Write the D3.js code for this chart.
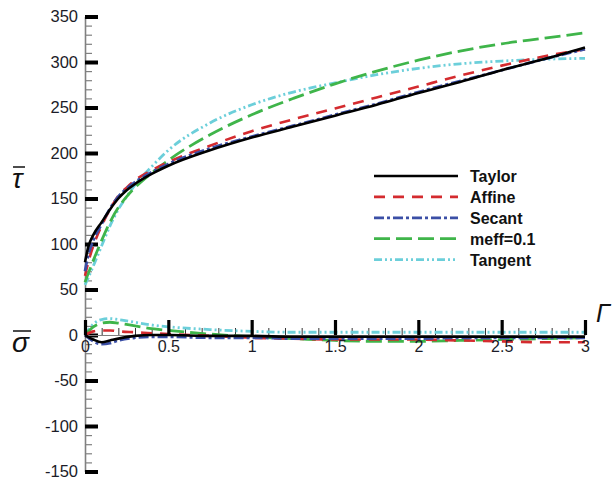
<!DOCTYPE html>
<html>
<head>
<meta charset="utf-8">
<script src="https://cdn.jsdelivr.net/npm/d3@7"></script>
<style>
  body { margin: 0; background: #fff; }
  text { font-family: "Liberation Sans", Arial, sans-serif; }
</style>
</head>
<body>
<svg id="chart" width="613" height="483"></svg>
<script>
// strain values (x) for the tau curves
var gammaTau = [0, 0.02, 0.05, 0.1, 0.15, 0.2, 0.25, 0.3, 0.4, 0.5, 0.75, 1, 1.25, 1.5, 1.75, 2, 2.25, 2.5, 2.75, 3];
var tauTaylor  = [80, 97, 110, 124, 138, 150, 159, 166, 177, 186, 203, 217, 229, 241, 253, 266, 278, 291, 303, 316];
var tauAffine  = [65, 80, 98, 120, 138, 153, 162, 170, 181, 190, 208, 224, 237, 249, 261, 273, 285, 296, 306, 314];
var tauSecant  = [70, 88, 104, 122, 139, 152, 161, 168, 179, 188, 205, 218, 230, 242, 254, 267, 279, 291, 303, 314];
var tauMeff    = [58, 68, 82, 104, 124, 140, 152, 162, 178, 192, 220, 242, 260, 276, 290, 302, 312, 320, 326, 332];
var tauTangent = [55, 63, 76, 98, 120, 138, 152, 165, 185, 203, 233, 253, 267, 277, 286, 293, 298, 301, 303, 304];

// strain values (x) for the sigma curves
var gammaSig = [0, 0.05, 0.1, 0.15, 0.2, 0.3, 0.4, 0.5, 0.75, 1, 1.25, 1.5, 1.75, 2, 2.25, 2.5, 2.75, 3];
var sigTaylor  = [0, -5, -8, -6, -4, -1, 0, 0, -1, -1, -2, -2, -2, -2, -2, -2, -2, -2];
var sigAffine  = [0, 4, 5, 5, 4, 3, 2, 1, -1, -3, -4, -5, -5, -5, -6, -7, -8, -8];
var sigSecant  = [0, -7, -10, -9, -6, -3, -2, -2, -3, -3, -4, -4, -4, -4, -3, -3, -3, -3];
var sigMeff    = [0, 9, 13, 14, 13, 10, 7, 5, 1, -2, -4, -6, -7, -7, -6, -5, -4, -3];
var sigTangent = [0, 12, 17, 18, 17, 14, 11, 9, 6, 4, 3, 3, 3, 3, 3, 3, 3, 3];

var seriesNames = ["Taylor", "Affine", "Secant", "meff=0.1", "Tangent"];
var xTicks = [0, 0.5, 1, 1.5, 2, 2.5, 3];
var yTicks = [-150, -100, -50, 0, 50, 100, 150, 200, 250, 300, 350];

var styles = [
  {color: "#000000", dash: null, width: 2.6},
  {color: "#d42b2f", dash: "11,8", width: 2.6},
  {color: "#3b4fa6", dash: "10,3,3,3", width: 2.8},
  {color: "#3fb54a", dash: "16,6", width: 2.8},
  {color: "#6ccfda", dash: "8,3,2,3,2,3", width: 2.8}
];

var svg = d3.select("#chart");
var x = d3.scaleLinear().domain([0, 3]).range([85, 585]);
var y = d3.scaleLinear().domain([-150, 350]).range([471.5, 16.5]);
var plain = function(d) { return String(d); };

// y axis
var yMinor = d3.range(-150, 351, 10).filter(function(v) { return v % 50 !== 0; });
svg.append("g")
  .attr("transform", "translate(" + x(0) + ",0)")
  .call(d3.axisLeft(y).tickValues(yMinor).tickSize(-7).tickSizeOuter(0).tickFormat(""))
  .call(function(g) {
    g.select(".domain").attr("stroke", "#808080").attr("stroke-width", 1.6);
    g.selectAll(".tick line").attr("stroke", "#808080").attr("stroke-width", 1.2);
  });
svg.append("g")
  .attr("transform", "translate(" + x(0) + ",0)")
  .call(d3.axisLeft(y).tickValues(yTicks).tickSize(-13).tickPadding(7).tickSizeOuter(0).tickFormat(plain))
  .call(function(g) {
    g.select(".domain").remove();
    g.selectAll(".tick line").attr("stroke", "#000").attr("stroke-width", 4);
    g.selectAll(".tick text").attr("font-size", 16.5).attr("fill", "#1c1c28")
      .attr("font-family", "Liberation Sans, Arial, sans-serif");
  });

// x axis at y = 0
var xMinor = d3.range(1, 30).map(function(i) { return i / 10; }).filter(function(v, i) { return (i + 1) % 5 !== 0; });
svg.append("g")
  .attr("transform", "translate(0," + y(0) + ")")
  .call(d3.axisBottom(x).tickValues(xMinor).tickSize(-7).tickSizeOuter(0).tickFormat(""))
  .call(function(g) {
    g.select(".domain").attr("stroke", "#808080").attr("stroke-width", 1.2);
    g.selectAll(".tick line").attr("stroke", "#333").attr("stroke-width", 1);
  });

// curves
var line = d3.line()
  .x(function(d) { return x(d[0]); })
  .y(function(d) { return y(d[1]); })
  .curve(d3.curveMonotoneX);

var tauSets = [tauTaylor, tauAffine, tauSecant, tauMeff, tauTangent];
var sigSets = [sigTaylor, sigAffine, sigSecant, sigMeff, sigTangent];
var order = [4, 3, 1, 2, 0];

order.forEach(function(i) {
  [[gammaTau, tauSets[i]], [gammaSig, sigSets[i]]].forEach(function(pair) {
    var pts = pair[0].map(function(g, k) { return [g, pair[1][k]]; });
    svg.append("path")
      .datum(pts)
      .attr("fill", "none")
      .attr("stroke", styles[i].color)
      .attr("stroke-width", styles[i].width)
      .attr("stroke-dasharray", styles[i].dash)
      .attr("d", line);
  });
});

// major x ticks drawn over curves
svg.append("g")
  .attr("transform", "translate(0," + y(0) + ")")
  .call(d3.axisBottom(x).tickValues(xTicks).tickSize(-15).tickPadding(6).tickSizeOuter(0).tickFormat(plain))
  .call(function(g) {
    g.select(".domain").remove();
    g.selectAll(".tick line").attr("stroke", "#000").attr("stroke-width", 3.2);
    g.selectAll(".tick text").attr("font-size", 16).attr("fill", "#1c1c28")
      .attr("font-family", "Liberation Sans, Arial, sans-serif");
  });

// legend
var legend = svg.append("g").attr("transform", "translate(374,176)");
seriesNames.forEach(function(name, i) {
  var row = legend.append("g").attr("transform", "translate(0," + (i * 20.9) + ")");
  row.append("line")
    .attr("x1", 0).attr("x2", 84).attr("y1", 0).attr("y2", 0)
    .attr("stroke", styles[i].color)
    .attr("stroke-width", styles[i].width)
    .attr("stroke-dasharray", styles[i].dash);
  row.append("text")
    .attr("x", 96).attr("y", 6)
    .attr("font-size", 16).attr("font-weight", "bold")
    .attr("fill", "#111")
    .text(name);
});

// axis symbols with overbars
function barLabel(txt, lx, ly) {
  var t = svg.append("text")
    .attr("x", lx).attr("y", ly)
    .attr("font-family", "Liberation Serif, Times New Roman, serif")
    .attr("font-style", "italic")
    .attr("font-size", 28)
    .attr("fill", "#111")
    .text(txt);
  var b = t.node().getBBox();
  svg.append("line")
    .attr("x1", b.x + 1).attr("x2", b.x + b.width + 1)
    .attr("y1", ly - 21).attr("y2", ly - 21)
    .attr("stroke", "#111").attr("stroke-width", 1.5);
}
barLabel("\u03C4", 12, 188);
barLabel("\u03C3", 12, 352);

svg.append("text")
  .attr("x", 596).attr("y", 322)
  .attr("font-family", "Liberation Serif, Times New Roman, serif")
  .attr("font-style", "italic")
  .attr("font-size", 25)
  .attr("fill", "#111")
  .text("\u0393");
</script>
</body>
</html>
